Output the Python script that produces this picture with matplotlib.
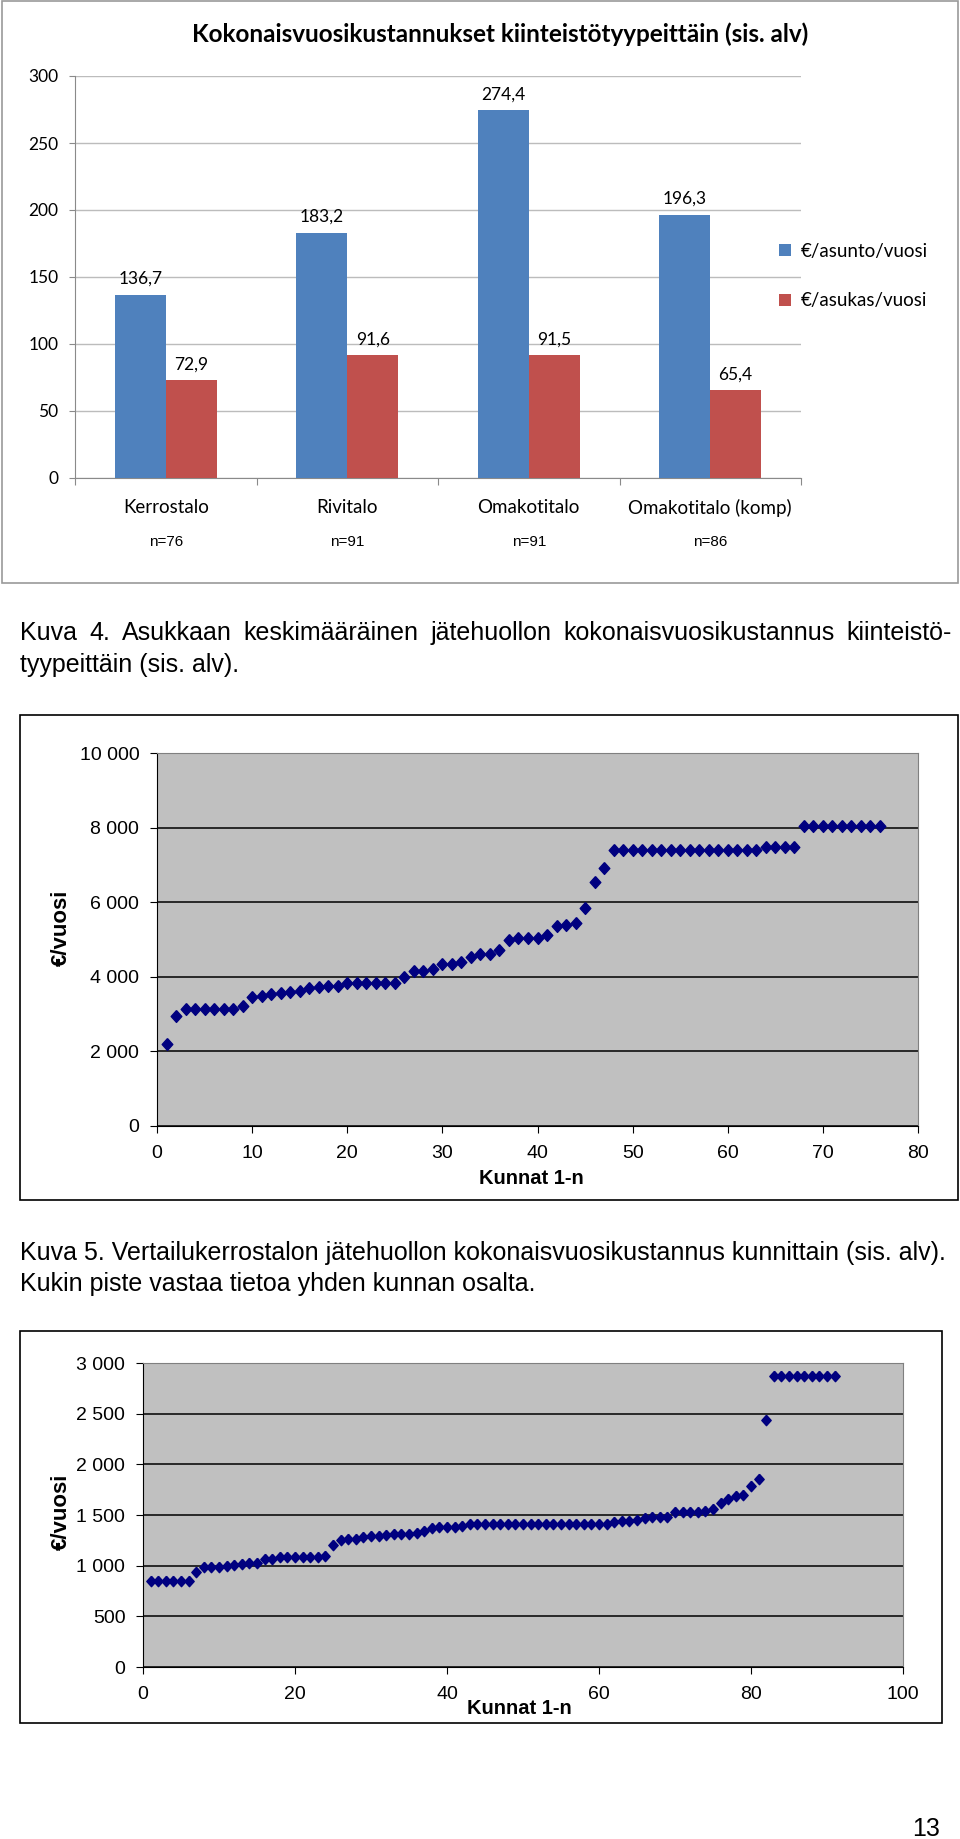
import numpy as np
import matplotlib
matplotlib.use("Agg")
from matplotlib import pyplot as plt
from matplotlib.patches import Rectangle

# Kuva 4: kokonaisvuosikustannukset kiinteistötyypeittäin
talotyypit = ["Kerrostalo", "Rivitalo", "Omakotitalo", "Omakotitalo (komp)"]
otokset = ["n=76", "n=91", "n=91", "n=86"]
asunto_vuosi = [136.7, 183.2, 274.4, 196.3]
asukas_vuosi = [72.9, 91.6, 91.5, 65.4]

# Kuva 5: vertailukerrostalo, kunnat 1-76 (€/vuosi)
kerrostalo = [2200, 2960, 3140, 3140, 3140, 3140, 3140, 3140, 3230, 3450,
              3490, 3550, 3570, 3590, 3610, 3690, 3720, 3750, 3750, 3840,
              3840, 3840, 3840, 3840, 3840, 4005, 4160, 4160, 4210, 4330,
              4350, 4400, 4525, 4615, 4615, 4730, 4975, 5045, 5045, 5045,
              5110, 5360, 5385, 5450, 5850, 6540, 6910, 7390, 7390, 7390,
              7390, 7390, 7390, 7390, 7390, 7390, 7390, 7390, 7390, 7390,
              7390, 7390, 7390, 7490, 7490, 7490, 7490, 8040, 8040, 8040,
              8040, 8040, 8040, 8040, 8040, 8040]

# seuraava kuva: kunnat 1-91 (€/vuosi)
rivitalo = [850, 850, 850, 850, 850, 850, 940, 985, 985, 990,
            1000, 1005, 1015, 1025, 1030, 1065, 1070, 1085, 1090, 1090,
            1090, 1090, 1090, 1100, 1200, 1255, 1265, 1265, 1280, 1290,
            1290, 1300, 1310, 1315, 1315, 1325, 1340, 1370, 1380, 1380,
            1380, 1390, 1410, 1410, 1410, 1410, 1410, 1410, 1410, 1410,
            1410, 1410, 1410, 1410, 1410, 1410, 1410, 1410, 1410, 1410,
            1415, 1435, 1445, 1445, 1450, 1475, 1480, 1480, 1480, 1525,
            1530, 1530, 1530, 1540, 1555, 1615, 1660, 1685, 1700, 1785,
            1860, 2440, 2870, 2870, 2870, 2870, 2870, 2870, 2870, 2870,
            2870]

W, H = 960, 1839
fig = plt.figure(figsize=(W / 100, H / 100), dpi=100)
fig.patch.set_facecolor("white")

CAL = ["Lato", "DejaVu Sans"]
ARIAL = ["Liberation Sans", "DejaVu Sans"]
diamond = [(0, 1), (0.9, 0), (0, -1), (-0.9, 0), (0, 1)]


def px_axes(l, t, r, b):
    return fig.add_axes([l / W, 1 - b / H, (r - l) / W, (b - t) / H])


def frame(l, t, r, b, color):
    fig.add_artist(Rectangle((l / W, 1 - b / H), (r - l) / W, (b - t) / H,
                             transform=fig.transFigure, fill=False,
                             lw=1.2, ec=color))


def ftext(x, y, s, **kw):
    return fig.text(x / W, 1 - y / H, s, **kw)


def fit_width(t, target):
    r = fig.canvas.get_renderer()
    w = t.get_window_extent(r).width
    t.set_fontsize(t.get_fontsize() * target / w)
    return t.get_fontsize()


def justify(words, x0, x1, y, **kw):
    r = fig.canvas.get_renderer()
    arts = [ftext(x0, y, w, va="center", ha="left", **kw) for w in words]
    widths = [a.get_window_extent(r).width for a in arts]
    gap = (x1 - x0 - sum(widths)) / (len(words) - 1)
    x = x0
    for a, w in zip(arts, widths):
        a.set_x(x / W)
        x += w + gap


# ---------- Kuva 4 ----------
frame(2, 1, 958, 583, "#9a9a9a")
ax1 = px_axes(75, 76, 801, 478)
x = np.arange(len(talotyypit))
w = 0.28
b1 = ax1.bar(x - w / 2, asunto_vuosi, w, color="#4F81BD", label="€/asunto/vuosi", zorder=3)
b2 = ax1.bar(x + w / 2, asukas_vuosi, w, color="#C0504D", label="€/asukas/vuosi", zorder=3)
ax1.set_xlim(-0.5, len(talotyypit) - 0.5)
ax1.set_ylim(0, 300)
ax1.set_yticks(np.arange(0, 301, 50))
ax1.grid(axis="y", color="#bcbcbc", lw=1, zorder=0)
for s in ["top", "right"]:
    ax1.spines[s].set_visible(False)
for s in ["left", "bottom"]:
    ax1.spines[s].set_color("#8a8a8a")
ax1.tick_params(axis="y", length=4, pad=8, color="#8a8a8a", labelsize=12.5)
ax1.set_xticks(np.arange(-0.5, len(talotyypit)), [""] * (len(talotyypit) + 1))
ax1.tick_params(axis="x", which="major", length=5, color="#8a8a8a")
ax1.set_xticks(x, talotyypit, minor=True)
ax1.tick_params(axis="x", which="minor", length=0, pad=15, labelsize=13.5)
for lab in ax1.get_yticklabels() + ax1.get_xticklabels(minor=True):
    lab.set_fontfamily(CAL)
for xi, n in zip(x, otokset):
    ax1.text(xi, -0.16, n, transform=ax1.get_xaxis_transform(), ha="center",
             va="center", fontsize=11, family=ARIAL)
for bars in (b1, b2):
    for r in bars:
        v = r.get_height()
        ax1.annotate(f"{v:.1f}".replace(".", ","), (r.get_x() + r.get_width() / 2, v),
                     xytext=(0, 11.5), textcoords="offset points", ha="center",
                     va="center", fontsize=12.5, family=CAL)
ax1.legend(loc="center left", bbox_to_anchor=(779 / W, 1 - 276 / H),
           bbox_transform=fig.transFigure, frameon=False, borderpad=0,
           borderaxespad=0, handlelength=0.65, handleheight=0.65,
           handletextpad=0.5, labelspacing=1.75, prop={"family": CAL, "size": 13.5})
t = ftext(500, 34, "Kokonaisvuosikustannukset kiinteistötyypeittäin (sis. alv)",
          ha="center", va="center", fontsize=16, fontweight="bold", family=CAL)
fit_width(t, 620)

# ---------- captions ----------
c5 = ftext(20, 1253, "Kuva 5. Vertailukerrostalon jätehuollon kokonaisvuosikustannus kunnittain (sis. alv).",
           ha="left", va="center", fontsize=14, family=ARIAL)
cs = fit_width(c5, 932)
ftext(20, 1284, "Kukin piste vastaa tietoa yhden kunnan osalta.",
      ha="left", va="center", fontsize=cs, family=ARIAL)
justify("Kuva 4. Asukkaan keskimääräinen jätehuollon kokonaisvuosikustannus kiinteistö-".split(),
        20, 952, 633, fontsize=cs, family=ARIAL)
ftext(20, 665, "tyypeittäin (sis. alv).", ha="left", va="center", fontsize=cs, family=ARIAL)
ftext(940, 1829, "13", ha="right", va="center", fontsize=cs, family=ARIAL)


# ---------- scatter charts ----------
def scatter_chart(box, plot, data, xmax, xstep, ymax, ystep, ms, ylab_y, xlab_x, xlab_y):
    frame(*box, "black")
    ax = px_axes(*plot)
    ax.set_facecolor("#C0C0C0")
    ax.plot(np.arange(1, len(data) + 1), data, ls="none", marker=diamond,
            ms=ms, color="#000080", mec="#000080", zorder=3, clip_on=False)
    ax.set_xlim(0, xmax)
    ax.set_ylim(0, ymax)
    ax.set_xticks(np.arange(0, xmax + 1, xstep))
    yt = np.arange(0, ymax + 1, ystep)
    ax.set_yticks(yt, [f"{v:,}".replace(",", " ") for v in yt])
    ax.grid(axis="y", color="black", lw=1.1, zorder=1)
    ax.spines["left"].set_color("black")
    ax.spines["bottom"].set_color("black")
    ax.spines["top"].set_color("#808080")
    ax.spines["right"].set_color("#808080")
    ax.tick_params(length=4.7, labelsize=14)
    ax.tick_params(axis="y", pad=8)
    ax.tick_params(axis="x", pad=9)
    for lab in ax.get_xticklabels() + ax.get_yticklabels():
        lab.set_fontfamily(ARIAL)
    ftext(61, ylab_y, "€/vuosi", rotation=90, ha="center", va="center",
          fontsize=16, fontweight="bold", family=ARIAL)
    ftext(xlab_x, xlab_y, "Kunnat 1-n", ha="center", va="center",
          fontsize=14.5, fontweight="bold", family=ARIAL)
    return ax


scatter_chart((20, 715, 958, 1200), (157, 753, 918, 1126), kerrostalo,
              80, 10, 10000, 2000, 8.5, 928, 531, 1178)
scatter_chart((20, 1331, 942, 1723), (143, 1363, 903, 1667), rivitalo,
              100, 20, 3000, 500, 7.5, 1512, 519, 1709)

fig.savefig("out.png", dpi=100)
